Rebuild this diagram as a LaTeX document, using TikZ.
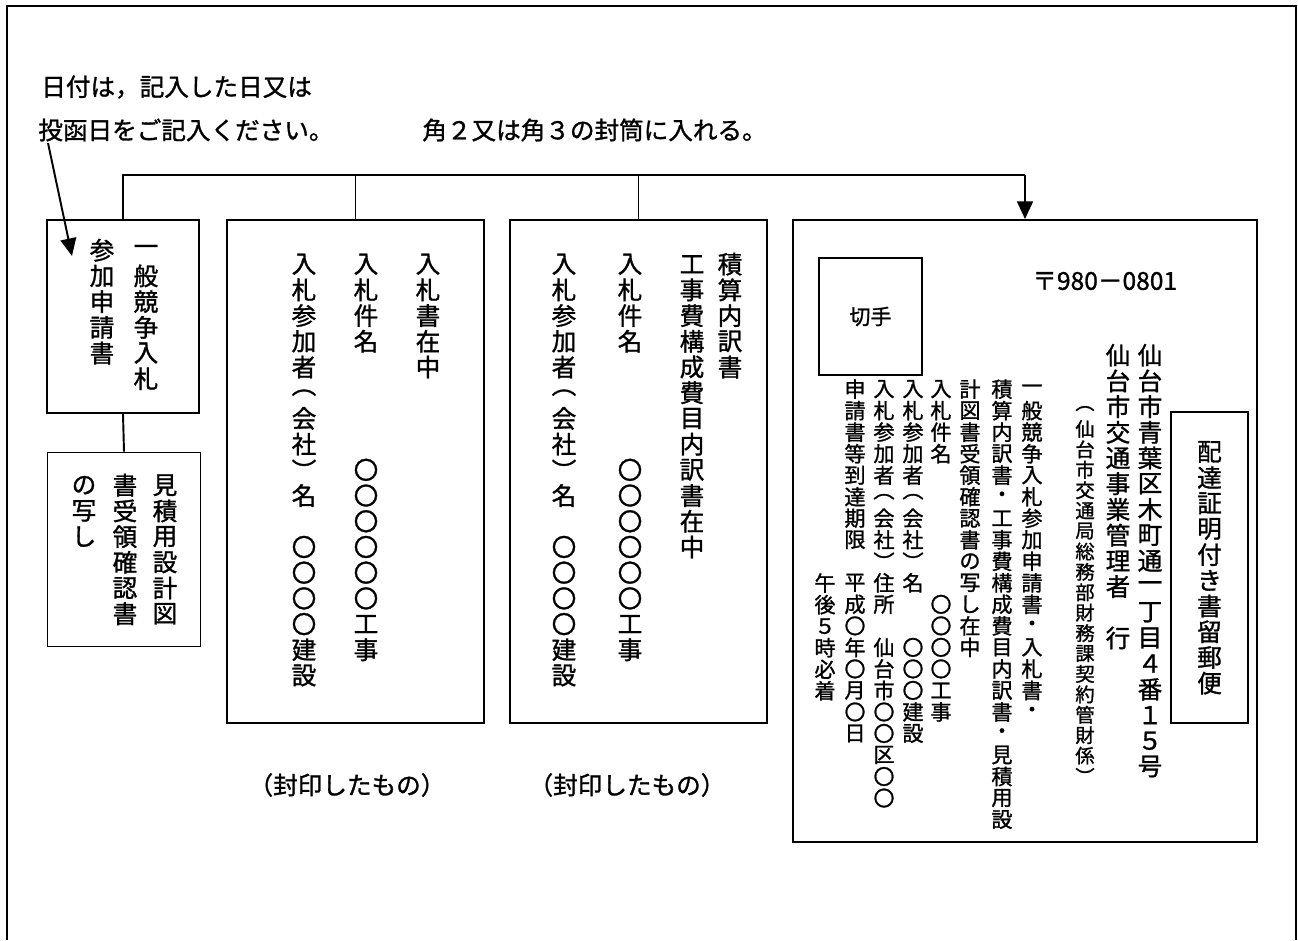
\documentclass[tikz,border=0pt]{standalone}
\usepackage{fontspec}
\usepackage{tikz}
\usetikzlibrary{arrows.meta}
\newfontfamily\jpfont[FakeBold=1.2]{Noto Sans CJK JP}
\newcommand\fsbig{\jpfont\fontsize{14pt}{14pt}\selectfont}
\newcommand\fsmid{\jpfont\fontsize{12pt}{12pt}\selectfont}
\newcommand\fssmall{\jpfont\fontsize{11pt}{11pt}\selectfont}
\ExplSyntaxOn
\NewDocumentCommand\tate{O{14.63pt}m}
  {
    \vbox:n
      {
        \offinterlineskip
        \tl_map_inline:nn {#2}
          { \hbox_to_wd:nn {1.1em} { \hss \vbox_to_ht:nn {#1} { \vss \hbox:n {##1} \vss } \hss } }
      }
  }
\ExplSyntaxOff
\tikzset{
  panel/.style 2 args={draw, line width=1.1pt, inner sep=0pt, minimum width=#1*0.02cm, minimum height=#2*0.02cm},
  tcol/.style={anchor=north, inner sep=0pt, font=\fsbig},
  scol/.style={anchor=north, inner sep=0pt, font=\fsmid},
  wire/.style={line width=1.1pt},
  pointer/.style={wire, -{Triangle[length=10pt,width=9pt]}},
}

\begin{document}
\begin{tikzpicture}[x=0.02cm, y=-0.02cm, font=\fsbig]
  \useasboundingbox (0,0) rectangle (1298,940);
  \draw[line width=1.6pt] (7,940) |- (1296,6) -- (1296,940);

  \node[anchor=west, inner sep=0pt] (note1) at (41,87) {日付は，記入した日又は};
  \node[anchor=west, inner sep=0pt] (note2) at (38,130) {投函日をご記入ください。};
  \node[anchor=west, inner sep=0pt] (note3) at (422,130) {角２又は角３の封筒に入れる。};

  \node[panel={152}{193}] (b1) at (123,316.5) {};
  \node[panel={153}{194}] (b1b) at (124,549.5) {};
  \node[panel={257}{503}] (b2) at (355.5,471.5) {};
  \node[panel={257}{503}] (b3) at (638.5,471.5) {};
  \node[panel={464}{622}] (b4) at (1025,531) {};

  \coordinate (bus) at (0,175);
  \draw[wire] (b1.north) |- (b4.north |- bus);
  \draw[wire] (b2.north) -- (b2.north |- bus);
  \draw[wire] (b3.north) -- (b3.north |- bus);
  \draw[pointer] (b4.north |- bus) -- (b4.north);
  \draw[wire] (b1.south) -- (b1b.north);
  \coordinate (a0) at (48,143);
  \coordinate (a1) at (72,256);
  \draw[pointer] (a0) -- (a1);

  \node[tcol] (b1c1) at (146,237) {\tate{一般競争入札}};
  \node[tcol] (b1c2) at (102,237) {\tate{参加申請書}};

  \node[tcol] (b1bc1) at (165,472) {\tate{見積用設計図}};
  \node[tcol] (b1bc2) at (125,472) {\tate{書受領確認書}};
  \node[tcol] (b1bc3) at (84,472) {\tate{の写し}};

  \node[tcol] (b2c1) at (428,251) {\tate{入札書在中}};
  \node[tcol] (b2c2) at (366,251) {\tate{入札件名　　　　〇〇〇〇〇〇工事}};
  \node[tcol] (b2c3) at (304,251) {\tate{入札参加者︵会社︶名　〇〇〇〇建設}};

  \node[tcol] (b3c1) at (730,251) {\tate{積算内訳書}};
  \node[tcol] (b3c2) at (692,251) {\tate{工事費構成費目内訳書在中}};
  \node[tcol] (b3c3) at (630,251) {\tate{入札件名　　　　〇〇〇〇〇〇工事}};
  \node[tcol] (b3c4) at (564,251) {\tate{入札参加者︵会社︶名　〇〇〇〇建設}};

  \node (seal2) at (347,785) {（封印したもの）};
  \node (seal3) at (627,785) {（封印したもの）};

  \node[panel={103}{117}, font=\fsmid] (stamp) at (870.5,316.5) {切手};
  \node[anchor=west, inner sep=0pt] (zip) at (1032,281) {〒980－0801};
  \node[panel={77}{311}] (reg) at (1209.5,567.5) {\tate{配達証明付き書留郵便}};

  \node[tcol] (addr) at (1150,342) {\tate{仙台市青葉区木町通一丁目４番１５号}};
  \node[tcol] (dest) at (1118,342) {\tate{仙台市交通事業管理者　行}};
  \node[tcol, font=\fssmall] (dept) at (1085,398) {\tate[11.62pt]{︵仙台市交通局総務部財務課契約管財係︶}};
  \node[scol] (e1) at (1032,378) {\tate[12.25pt]{一般競争入札参加申請書・入札書・}};
  \node[scol] (e2) at (1002,378) {\tate[12.25pt]{積算内訳書・工事費構成費目内訳書・見積用設}};
  \node[scol] (e3) at (970,378) {\tate[12.25pt]{計図書受領確認書の写し在中}};
  \node[scol] (e4) at (941,378) {\tate[12.25pt]{入札件名　　　　　　〇〇〇〇工事}};
  \node[scol] (e5) at (913,378) {\tate[12.25pt]{入札参加者︵会社︶名　　〇〇〇建設}};
  \node[scol] (e6) at (884,378) {\tate[12.25pt]{入札参加者︵会社︶住所　仙台市〇〇区〇〇}};
  \node[scol] (e7) at (855,378) {\tate[12.25pt]{申請書等到達期限　平成〇年〇月〇日}};
  \node[scol] (e8) at (825,572) {\tate[12.25pt]{午後５時必着}};
\end{tikzpicture}
\end{document}
